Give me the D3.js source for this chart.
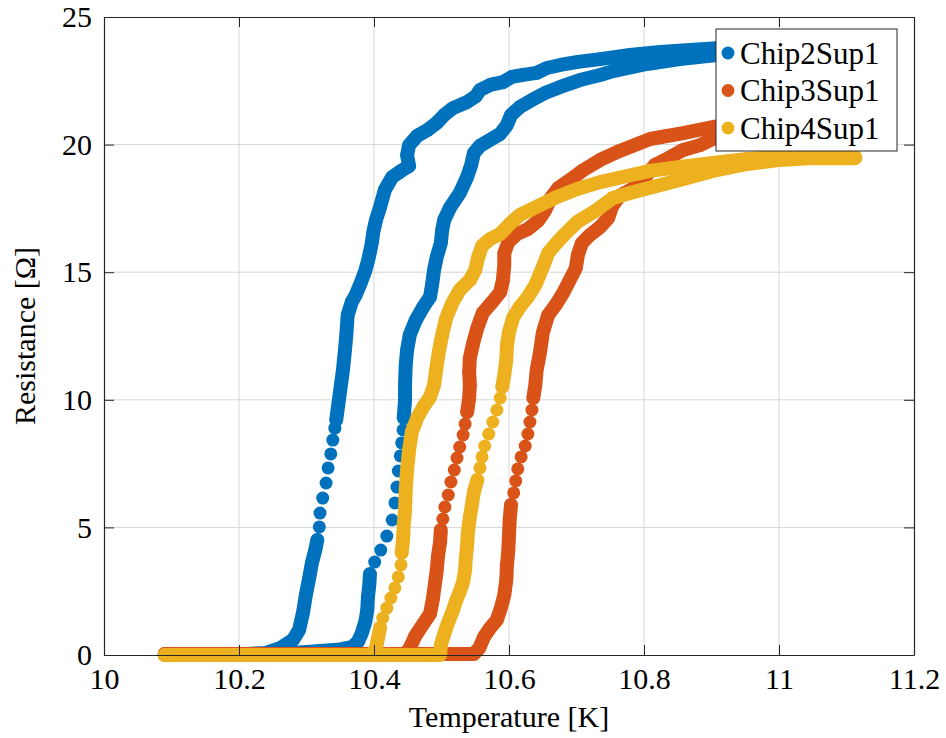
<!DOCTYPE html>
<html>
<head>
<meta charset="utf-8">
<script src="https://cdn.jsdelivr.net/npm/d3@7"></script>
<style>
  html, body { margin: 0; padding: 0; background: #fff; }
  svg { display: block; }
  text { font-family: "Liberation Serif", "Times New Roman", Times, serif; fill: #000; }
</style>
</head>
<body>
<svg id="chart" width="946" height="738"></svg>
<script>
// Axis ticks
const xTicks = [10, 10.2, 10.4, 10.6, 10.8, 11, 11.2];
const yTicks = [0, 5, 10, 15, 20, 25];

const seriesNames = ["Chip2Sup1", "Chip3Sup1", "Chip4Sup1"];
const seriesColors = ["#0072BD", "#D95319", "#EDB120"];

// Each sweep is stored as [temperature K, resistance Ω] readings.
// "Low"/"High" are densely sampled stretches, "Steps" the sparsely sampled part of the transition.

// Chip2Sup1, lower-temperature sweep
const chip2LeftLow = [[10.090,0.02],[10.200,0.03],[10.240,0.08],[10.261,0.27],[10.280,0.59],[10.289,0.98],[10.295,1.68],[10.299,2.35],[10.304,3.02],[10.308,3.61],[10.313,4.11],[10.316,4.51]];
const chip2LeftSteps = [[10.319,5.02],[10.320,5.56],[10.324,6.15],[10.329,6.74],[10.332,7.33],[10.336,7.88],[10.339,8.42],[10.342,8.89]];
const chip2LeftHigh = [[10.344,9.21],[10.348,9.99],[10.351,10.58],[10.354,11.17],[10.357,11.95],[10.359,12.54],[10.361,13.32],[10.367,13.83],[10.373,14.11],[10.381,14.62],[10.387,15.05],[10.391,15.44],[10.394,15.79],[10.397,16.18],[10.399,16.58],[10.403,17.05],[10.409,17.55],[10.416,18.22],[10.427,18.73],[10.442,19.00],[10.452,19.16],[10.449,19.59],[10.452,19.98],[10.464,20.34],[10.479,20.57],[10.493,20.85],[10.504,21.16],[10.517,21.43],[10.538,21.67],[10.551,21.90],[10.557,22.14],[10.572,22.34],[10.591,22.45],[10.604,22.65],[10.621,22.73],[10.641,22.81],[10.656,23.00],[10.676,23.12],[10.702,23.24],[10.735,23.35],[10.779,23.51],[10.824,23.63],[10.868,23.71],[10.913,23.79],[10.972,23.86]];

// Chip2Sup1, higher-temperature sweep
const chip2RightLow = [[10.090,0.02],[10.250,0.04],[10.300,0.12],[10.350,0.22],[10.367,0.31],[10.376,0.51],[10.382,0.86],[10.387,1.29],[10.390,1.76],[10.391,2.27],[10.393,2.74],[10.394,3.17]];
const chip2RightSteps = [[10.401,3.64],[10.410,4.11],[10.419,4.66],[10.427,5.29],[10.431,5.96],[10.434,6.58],[10.436,7.21],[10.439,7.80],[10.441,8.31],[10.443,8.82]];
const chip2RightHigh = [[10.444,9.29],[10.446,9.99],[10.446,10.58],[10.447,11.36],[10.449,11.95],[10.453,12.54],[10.462,13.13],[10.473,13.64],[10.483,14.03],[10.486,14.50],[10.489,15.09],[10.493,15.60],[10.499,16.14],[10.501,16.65],[10.504,17.05],[10.513,17.55],[10.527,18.10],[10.538,18.73],[10.544,19.20],[10.548,19.67],[10.557,19.95],[10.569,20.14],[10.587,20.42],[10.597,20.77],[10.603,21.16],[10.616,21.47],[10.634,21.75],[10.653,22.02],[10.676,22.26],[10.705,22.53],[10.735,22.73],[10.754,22.88],[10.804,23.16],[10.853,23.35],[10.908,23.51],[10.972,23.63]];

// Chip3Sup1, lower-temperature sweep
const chip3LeftLow = [[10.090,0.04],[10.446,0.04],[10.453,0.27],[10.461,0.74],[10.471,1.14],[10.483,1.61],[10.487,2.16],[10.490,2.74],[10.493,3.33],[10.495,3.92],[10.498,4.43],[10.499,4.90]];
const chip3LeftSteps = [[10.502,5.33],[10.505,5.80],[10.510,6.27],[10.514,6.78],[10.519,7.25],[10.523,7.72],[10.527,8.15],[10.532,8.62],[10.535,9.05]];
const chip3LeftHigh = [[10.538,9.52],[10.541,10.07],[10.542,10.58],[10.541,11.09],[10.542,11.64],[10.547,12.23],[10.553,12.81],[10.561,13.40],[10.575,13.83],[10.587,14.22],[10.591,14.69],[10.593,15.28],[10.593,15.75],[10.599,16.18],[10.612,16.50],[10.628,16.69],[10.643,17.01],[10.653,17.40],[10.662,17.91],[10.673,18.30],[10.690,18.61],[10.710,19.00],[10.735,19.40],[10.764,19.75],[10.809,20.22],[10.858,20.45],[10.902,20.69],[10.950,20.85]];

// Chip3Sup1, higher-temperature sweep
const chip3RightLow = [[10.090,0.04],[10.548,0.04],[10.556,0.27],[10.563,0.71],[10.572,1.06],[10.582,1.37],[10.588,1.84],[10.593,2.35],[10.596,2.94],[10.597,3.53],[10.599,4.11],[10.600,4.70],[10.601,5.29],[10.603,5.88]];
const chip3RightSteps = [[10.607,6.35],[10.610,6.82],[10.613,7.29],[10.618,7.76],[10.624,8.19],[10.628,8.66],[10.631,9.13],[10.634,9.60]];
const chip3RightHigh = [[10.636,10.07],[10.639,10.58],[10.641,11.17],[10.646,11.87],[10.650,12.62],[10.658,13.32],[10.670,13.75],[10.680,14.18],[10.690,14.69],[10.699,15.16],[10.702,15.67],[10.708,16.14],[10.720,16.46],[10.735,16.77],[10.747,17.12],[10.753,17.59],[10.764,17.99],[10.782,18.26],[10.801,18.69],[10.816,19.20],[10.836,19.47],[10.858,19.79],[10.883,19.98],[10.902,20.22],[10.950,20.45]];

// Chip4Sup1, lower-temperature sweep
const chip4LeftLow = [[10.090,0],[10.397,0],[10.403,0.27],[10.406,0.67],[10.409,1.06]];
const chip4LeftSteps = [[10.413,1.45],[10.419,1.84],[10.425,2.23],[10.431,2.63],[10.436,3.06],[10.440,3.53]];
const chip4LeftHigh = [[10.441,4.00],[10.443,4.51],[10.444,5.09],[10.446,5.68],[10.447,6.47],[10.449,7.25],[10.452,8.03],[10.456,8.74],[10.464,9.29],[10.473,9.72],[10.483,10.11],[10.489,10.58],[10.492,11.17],[10.496,11.87],[10.501,12.54],[10.507,13.21],[10.516,13.79],[10.527,14.30],[10.542,14.69],[10.550,15.09],[10.554,15.56],[10.560,16.03],[10.572,16.30],[10.587,16.50],[10.601,16.89],[10.616,17.24],[10.631,17.44],[10.646,17.63],[10.671,17.95],[10.701,18.26],[10.735,18.53],[10.775,18.77],[10.809,18.97],[10.853,19.12],[10.902,19.28],[10.953,19.44],[11.001,19.51],[11.050,19.55],[11.113,19.51]];

// Chip4Sup1, higher-temperature sweep
const chip4RightLow = [[10.090,0],[10.498,0],[10.499,0.39],[10.504,0.82],[10.510,1.29],[10.516,1.68],[10.521,2.08],[10.527,2.47],[10.532,2.86],[10.535,3.33],[10.536,3.80],[10.538,4.31],[10.539,4.78],[10.542,5.41],[10.545,5.88],[10.548,6.39],[10.553,6.86]];
const chip4RightSteps = [[10.557,7.33],[10.560,7.76],[10.564,8.19],[10.570,8.66],[10.576,9.13],[10.582,9.60],[10.587,10.07]];
const chip4RightHigh = [[10.590,10.50],[10.593,10.97],[10.596,11.56],[10.597,12.15],[10.600,12.66],[10.606,13.21],[10.616,13.64],[10.628,14.03],[10.639,14.50],[10.647,15.01],[10.653,15.40],[10.658,15.75],[10.668,16.07],[10.680,16.42],[10.701,16.97],[10.730,17.44],[10.754,17.91],[10.779,18.10],[10.813,18.34],[10.853,18.61],[10.902,18.97],[10.953,19.24],[11.001,19.40],[11.050,19.47],[11.113,19.47]];

const series = [
  { name: seriesNames[0], color: seriesColors[0],
    dense: [chip2LeftLow, chip2LeftHigh, chip2RightLow, chip2RightHigh],
    sparse: [chip2LeftSteps, chip2RightSteps] },
  { name: seriesNames[1], color: seriesColors[1],
    dense: [chip3LeftLow, chip3LeftHigh, chip3RightLow, chip3RightHigh],
    sparse: [chip3LeftSteps, chip3RightSteps] },
  { name: seriesNames[2], color: seriesColors[2],
    dense: [chip4LeftLow, chip4LeftHigh, chip4RightLow, chip4RightHigh],
    sparse: [chip4LeftSteps, chip4RightSteps] }
];

// Layout
const plot = { left: 104, right: 914, top: 17, bottom: 655 };
const markerR = 6.5;
const denseWidth = 14;
const axisColor = "#262626";
const gridColor = "#d6d6d6";

const svg = d3.select("#chart");
const x = d3.scaleLinear().domain([10, 11.2]).range([plot.left, plot.right]);
const y = d3.scaleLinear().domain([0, 25]).range([plot.bottom, plot.top]);

// Grid
const grid = svg.append("g");
grid.selectAll("line.gx").data(xTicks.slice(1, -1)).join("line")
  .attr("x1", d => x(d)).attr("x2", d => x(d))
  .attr("y1", plot.top).attr("y2", plot.bottom)
  .attr("stroke", gridColor).attr("stroke-width", 1);
grid.selectAll("line.gy").data(yTicks.slice(1, -1)).join("line")
  .attr("x1", plot.left).attr("x2", plot.right)
  .attr("y1", d => y(d)).attr("y2", d => y(d))
  .attr("stroke", gridColor).attr("stroke-width", 1);

// Data: densely sampled stretches merge into a solid band, sparse readings stay as single dots
const plotArea = svg.append("g");
const line = d3.line().x(d => x(d[0])).y(d => y(d[1]));
series.forEach(s => {
  const g = plotArea.append("g");
  s.dense.forEach(run => {
    g.append("path").attr("d", line(run))
      .attr("fill", "none").attr("stroke", s.color)
      .attr("stroke-width", denseWidth)
      .attr("stroke-linejoin", "round").attr("stroke-linecap", "round");
  });
  const pts = s.dense.flat().concat(s.sparse.flat());
  g.selectAll("circle").data(pts).join("circle")
    .attr("cx", d => x(d[0])).attr("cy", d => y(d[1]))
    .attr("r", markerR).attr("fill", s.color);
});

// Axes (ticks point inward, box on all four sides)
const fmt = d3.format("");
const tickLen = 10;
const styleAxis = g => {
  g.selectAll(".domain").attr("stroke", axisColor).attr("stroke-width", 1.2);
  g.selectAll(".tick line").attr("stroke", axisColor).attr("stroke-width", 1);
  g.selectAll(".tick text").style("font-size", "30px").attr("fill", "#000");
};
svg.append("g").attr("transform", `translate(0,${plot.bottom})`)
  .call(d3.axisBottom(x).tickValues(xTicks).tickFormat(fmt).tickSize(-tickLen).tickSizeOuter(0).tickPadding(13))
  .call(styleAxis);
svg.append("g").attr("transform", `translate(0,${plot.top})`)
  .call(d3.axisTop(x).tickValues(xTicks).tickFormat("").tickSize(-tickLen).tickSizeOuter(0))
  .call(styleAxis);
svg.append("g").attr("transform", `translate(${plot.left},0)`)
  .call(d3.axisLeft(y).tickValues(yTicks).tickFormat(fmt).tickSize(-tickLen).tickSizeOuter(0).tickPadding(12))
  .call(styleAxis);
svg.append("g").attr("transform", `translate(${plot.right},0)`)
  .call(d3.axisRight(y).tickValues(yTicks).tickFormat("").tickSize(-tickLen).tickSizeOuter(0))
  .call(styleAxis);

// Axis titles
svg.append("text")
  .attr("x", (plot.left + plot.right) / 2).attr("y", 727)
  .attr("text-anchor", "middle").style("font-size", "30px")
  .text("Temperature [K]");
svg.append("text")
  .attr("transform", `translate(35,${(plot.top + plot.bottom) / 2}) rotate(-90)`)
  .attr("text-anchor", "middle").style("font-size", "30px")
  .text("Resistance [Ω]");

// Legend
const legend = svg.append("g").attr("transform", "translate(716,29)");
legend.append("rect").attr("width", 181).attr("height", 122)
  .attr("fill", "#fff").attr("stroke", axisColor).attr("stroke-width", 1);
series.forEach((s, i) => {
  const cy = 24 + i * 37.5;
  legend.append("circle").attr("cx", 12).attr("cy", cy).attr("r", markerR).attr("fill", s.color);
  legend.append("text").attr("x", 24).attr("y", cy + 10.5)
    .style("font-size", "31px").text(s.name);
});
</script>
</body>
</html>
